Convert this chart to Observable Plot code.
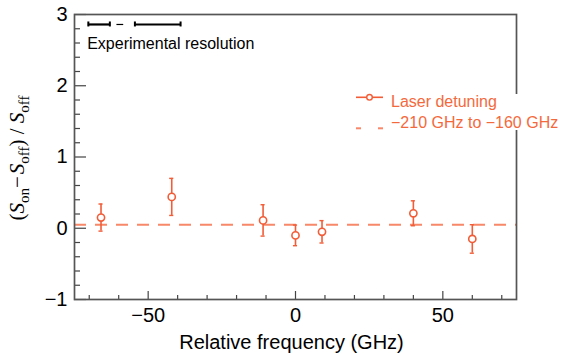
<!DOCTYPE html>
<html><head><meta charset="utf-8">
<script src="https://cdn.jsdelivr.net/npm/d3@7"></script>
<script src="https://cdn.jsdelivr.net/npm/@observablehq/plot@0.6"></script>
<style>body{margin:0;background:#fff}</style>
</head><body><div id="chart"></div>
<script>
// Data
const freq  = [-66, -42, -11, 0, 9, 40, 60];
const ratio = [0.15, 0.44, 0.11, -0.10, -0.05, 0.21, -0.15];
const err   = [0.19, 0.26, 0.22, 0.145, 0.157, 0.175, 0.20];
const baselineLevel = [0.05];
const resStart = [-70.3, -54.5];
const resEnd   = [-63.0, -39.0];
const resDashStart = [-60.6];
const resDashEnd   = [-58.3];
const resLevel = 2.86;
const xMajor = [-50, 0, 50];
const xMinor = [-70, -60, -40, -30, -20, -10, 10, 20, 30, 40, 60, 70];
const yMajor = [-1, 0, 1, 2, 3];
const yMinor = [-0.8, -0.6, -0.4, -0.2, 0.2, 0.4, 0.6, 0.8, 1.2, 1.4, 1.6, 1.8, 2.2, 2.4, 2.6, 2.8];
const xTitle = "Relative frequency (GHz)";
const resLabel = "Experimental resolution";
const legendLabels = ["Laser detuning", "\u2212210 GHz to \u2212160 GHz"];

const accent = "#f25c36";
const dashColor = "#f8886a";
const textColor = "#f4693c";

const points = freq.map((f, i) => ({x: f, y: ratio[i], e: err[i]}));
const resSegs = resStart.map((s, i) => ({x1: s, x2: resEnd[i]}));
const resEnds = resStart.concat(resEnd);

const W = 565, H = 354, mL = 74, mR = 49, mT = 14, mB = 55;
const pw = W - mL - mR, ph = H - mT - mB;
const fmt = d3.format("d");

const plot = Plot.plot({
  width: W, height: H,
  marginLeft: mL, marginRight: mR, marginTop: mT, marginBottom: mB,
  style: {fontFamily: "'Liberation Sans', Arial, sans-serif", fontSize: "20px", background: "white", color: "black"},
  x: {domain: [-75, 75]},
  y: {domain: [-1, 3]},
  marks: [
    Plot.ruleY(baselineLevel, {y: d => d, stroke: dashColor, strokeWidth: 2, strokeDasharray: "12,9"}),
    Plot.ruleX(points, {x: "x", y1: d => d.y - d.e, y2: d => d.y + d.e, stroke: accent, strokeWidth: 1.6}),
    Plot.ruleY(points, {y: d => d.y + d.e, x1: d => d.x - 0.7, x2: d => d.x + 0.7, stroke: accent, strokeWidth: 1.4}),
    Plot.ruleY(points, {y: d => d.y - d.e, x1: d => d.x - 0.7, x2: d => d.x + 0.7, stroke: accent, strokeWidth: 1.4}),
    Plot.dot(points, {x: "x", y: "y", r: 3.6, fill: "white", stroke: accent, strokeWidth: 1.6}),
    Plot.ruleY(resSegs, {y: resLevel, x1: "x1", x2: "x2", stroke: "black", strokeWidth: 2.2}),
    Plot.ruleX(resEnds, {x: d => d, y1: resLevel - 0.035, y2: resLevel + 0.035, stroke: "black", strokeWidth: 2}),
    Plot.ruleY(resDashStart, {y: resLevel, x1: d => d, x2: (d, i) => resDashEnd[i], stroke: "black", strokeWidth: 1.2}),
    Plot.text([resLabel], {x: -70.7, y: 2.593, textAnchor: "start", lineAnchor: "middle", fontSize: 16, fill: "black"}),
    Plot.tickX(xMajor, {x: d => d, insetTop: ph - 8, stroke: "#444", strokeWidth: 1.2}),
    Plot.tickX(xMinor, {x: d => d, insetTop: ph - 4, stroke: "#444", strokeWidth: 1.2}),
    Plot.tickY(yMajor, {y: d => d, insetRight: pw - 12, stroke: "#444", strokeWidth: 1.2}),
    Plot.tickY(yMinor, {y: d => d, insetRight: pw - 6, stroke: "#444", strokeWidth: 1.2}),
    Plot.frame({stroke: "#555", strokeWidth: 1.7}),
    Plot.axisX({ticks: xMajor, tickFormat: fmt, tickSize: 0, tickPadding: 8, fontSize: 20, label: null}),
    Plot.axisY({ticks: yMajor, tickFormat: fmt, tickSize: 0, tickPadding: 7, fontSize: 20, label: null}),
    Plot.text([xTitle], {frameAnchor: "bottom", dy: 43, dx: -4, lineAnchor: "middle", fontSize: 20, fill: "black"})
  ]
});

const svg = d3.select(plot);
// Y-axis title
const yt = svg.append("text")
  .attr("transform", "translate(24,158) rotate(-90)")
  .attr("text-anchor", "middle")
  .attr("font-family", "'Liberation Serif', 'DejaVu Serif', serif")
  .attr("font-size", 21)
  .attr("fill", "black");
yt.append("tspan").text("(");
yt.append("tspan").attr("font-style", "italic").text("S");
yt.append("tspan").attr("font-size", 15).attr("dy", 5).text("on");
yt.append("tspan").attr("dy", -5).text("\u2212");
yt.append("tspan").attr("font-style", "italic").attr("dx", 2).text("S");
yt.append("tspan").attr("font-size", 15).attr("dy", 5).text("off");
yt.append("tspan").attr("dy", -5).text(") / ");
yt.append("tspan").attr("font-style", "italic").text("S");
yt.append("tspan").attr("font-size", 15).attr("dy", 5).text("off");

// Legend
const lg = svg.append("g").attr("font-family", "'Liberation Sans', Arial, sans-serif").attr("font-size", 16).attr("text-anchor", "start");
lg.append("rect").attr("x", 350).attr("y", 94).attr("width", 215).attr("height", 36).attr("fill", "white");
lg.append("line").attr("x1", 356).attr("x2", 383).attr("y1", 97.3).attr("y2", 97.3).attr("stroke", accent).attr("stroke-width", 1.6);
lg.append("circle").attr("cx", 369.5).attr("cy", 97.3).attr("r", 2.8).attr("fill", "white").attr("stroke", accent).attr("stroke-width", 1.4);
lg.append("text").attr("x", 391).attr("y", 106.5).attr("fill", textColor).text(legendLabels[0]);
lg.append("line").attr("x1", 356).attr("x2", 361).attr("y1", 128.3).attr("y2", 128.3).attr("stroke", dashColor).attr("stroke-width", 2);
lg.append("line").attr("x1", 378).attr("x2", 383).attr("y1", 128.3).attr("y2", 128.3).attr("stroke", dashColor).attr("stroke-width", 2);
lg.append("text").attr("x", 391).attr("y", 128.3).attr("fill", textColor).text(legendLabels[1]);

document.getElementById("chart").appendChild(plot);
</script>
</body></html>
